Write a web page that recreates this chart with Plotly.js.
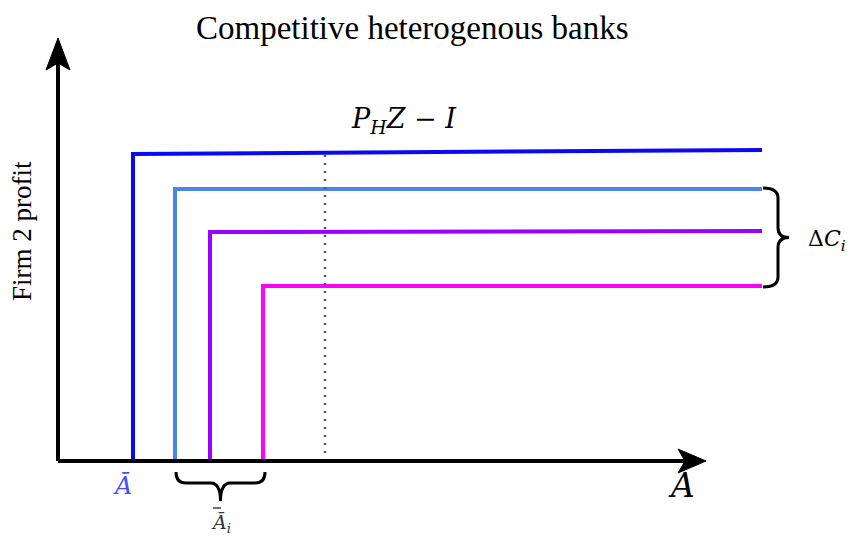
<!DOCTYPE html>
<html>
<head>
<meta charset="utf-8">
<script src="https://cdn.plot.ly/plotly-3.0.1.min.js"></script>
<style>html,body{margin:0;padding:0;background:#fff}#chart{width:854px;height:537px}</style>
</head>
<body>
<div id="chart"></div>
<script>
// Step thresholds (A) for each bank type and the profit levels they jump to
var bankNames = ["bank 1", "bank 2", "bank 3", "bank 4"];
var thresholds = [75, 117, 152, 205];
var profitStart = [307, 272, 229, 175];
var profitEnd = [311, 272, 230, 175];
var xEnd = 704;
var colors = ["#0a0af2", "#4a86e8", "#9900ff", "#ff00ff"];
var dottedX = 267;
var dottedTop = 306;

var traces = bankNames.map(function (n, i) {
  return {
    type: "scatter", mode: "lines", name: n,
    x: [thresholds[i], thresholds[i], xEnd],
    y: [0, profitStart[i], profitEnd[i]],
    line: {color: colors[i], width: 4},
    cliponaxis: false, hoverinfo: "skip"
  };
});
traces.push({
  type: "scatter", mode: "lines", name: "ref",
  x: [dottedX, dottedX], y: [0, dottedTop],
  line: {color: "#555", width: 2.5, dash: "2px,6px"}, hoverinfo: "skip"
});

function braceH(x1, x2, y0, y1, y2) {
  var xm = (x1 + x2) / 2, r = 10;
  return "M" + x1 + "," + y0 + " Q" + x1 + "," + y1 + " " + (x1 + r) + "," + y1 +
    " L" + (xm - r) + "," + y1 + " Q" + xm + "," + y1 + " " + xm + "," + y2 +
    " Q" + xm + "," + y1 + " " + (xm + r) + "," + y1 +
    " L" + (x2 - r) + "," + y1 + " Q" + x2 + "," + y1 + " " + x2 + "," + y0;
}
function braceV(y1, y2, x0, x1, x2) {
  var ym = (y1 + y2) / 2, r = 10;
  return "M" + x0 + "," + y1 + " Q" + x1 + "," + y1 + " " + x1 + "," + (y1 - r) +
    " L" + x1 + "," + (ym + r) + " Q" + x1 + "," + ym + " " + x2 + "," + ym +
    " Q" + x1 + "," + ym + " " + x1 + "," + (ym - r) +
    " L" + x1 + "," + (y2 + r) + " Q" + x1 + "," + y2 + " " + x0 + "," + y2;
}

var shapes = [
  {type: "line", x0: 0, y0: 0, x1: 0, y1: 400, line: {color: "#000", width: 4}},
  {type: "line", x0: 0, y0: 0, x1: 630, y1: 0, line: {color: "#000", width: 4}},
  {type: "path", path: "M0,423 L-12,391 L0,398 L12,391 Z", fillcolor: "#000", line: {color: "#000", width: 1}},
  {type: "path", path: "M648,0 L620,12 L627,0 L620,-12 Z", fillcolor: "#000", line: {color: "#000", width: 1}},
  {type: "path", path: braceH(118, 207, -11, -22, -40), line: {color: "#000", width: 3}},
  {type: "path", path: braceV(273, 174, 705, 720, 731), line: {color: "#000", width: 3}},
  // second bar of the double-barred A label
  {type: "line", x0: 155, x1: 163, y0: -47, y1: -47, line: {color: "#444", width: 1.5}}
];

var serif = "Liberation Serif, Times New Roman, serif";
var math = "DejaVu Serif, serif";
var annotations = [
  {x: 354, y: 433, text: "Competitive heterogenous banks", showarrow: false, font: {family: serif, size: 33, color: "#000"}},
  {x: 346, y: 341, text: "<i>P</i><sub><i>H</i></sub><i>Z</i> − <i>I</i>", showarrow: false, font: {family: math, size: 27, color: "#000"}},
  {x: 769, y: 221, text: "Δ<i>C</i><sub><i>i</i></sub>", showarrow: false, font: {family: math, size: 22, color: "#000"}},
  {x: 64, y: -25, text: "<i>Ā</i>", showarrow: false, font: {family: math, size: 24, color: "#4a4aff"}},
  {x: 623, y: -24, text: "<i>A</i>", showarrow: false, font: {family: math, size: 33, color: "#000"}},
  {x: 163, y: -62, text: "<i>Ā</i><sub><i>i</i></sub>", showarrow: false, font: {family: math, size: 19, color: "#333"}},
  {x: -36, y: 230, text: "Firm 2 profit", textangle: -90, showarrow: false, font: {family: serif, size: 27, color: "#000"}}
];

var layout = {
  width: 854, height: 537,
  margin: {l: 0, r: 0, t: 0, b: 0},
  paper_bgcolor: "#fff", plot_bgcolor: "#fff",
  showlegend: false, hovermode: false,
  xaxis: {range: [-58, 796], visible: false, fixedrange: true},
  yaxis: {range: [-76, 461], visible: false, fixedrange: true},
  shapes: shapes, annotations: annotations
};
Plotly.newPlot("chart", traces, layout, {displayModeBar: false, staticPlot: true});
</script>
</body>
</html>
